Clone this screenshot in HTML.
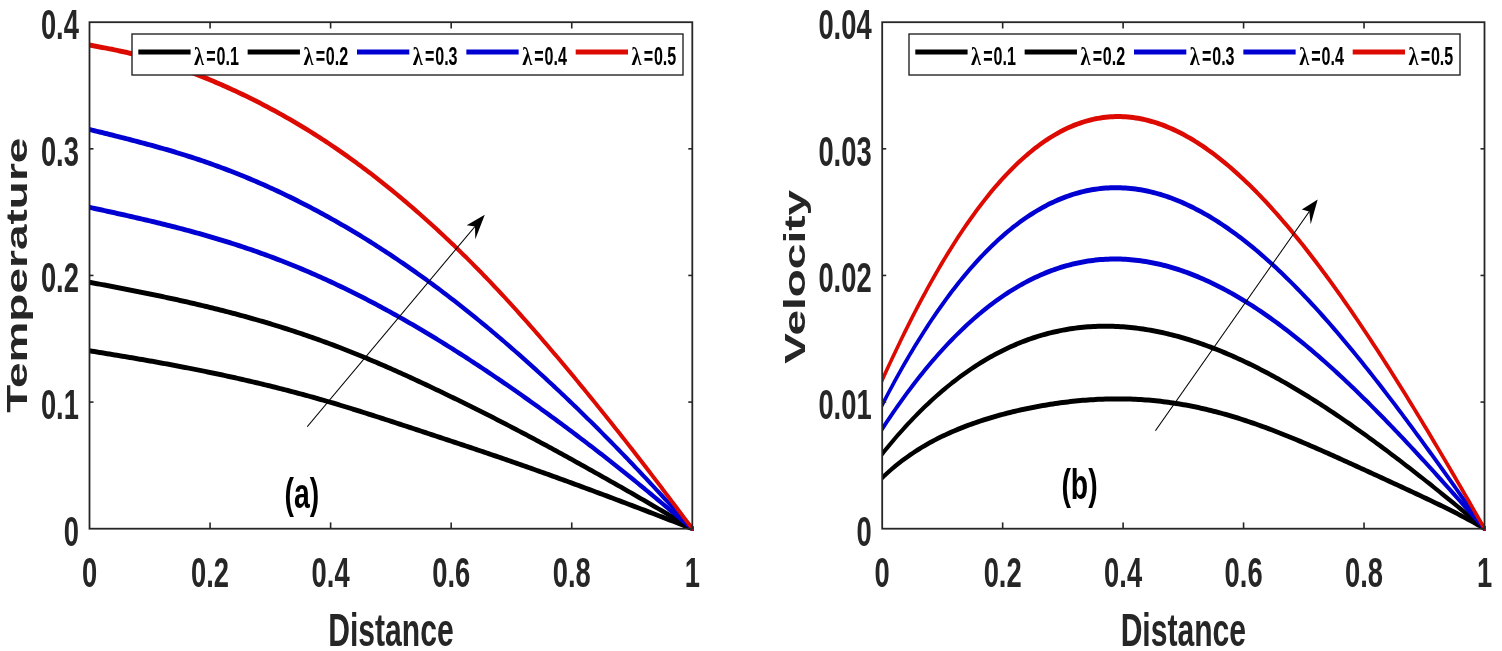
<!DOCTYPE html>
<html><head><meta charset="utf-8"><title>Temperature and Velocity profiles</title>
<style>html,body{margin:0;padding:0;background:#fff;}body{width:1502px;height:651px;overflow:hidden;}svg{display:block;}</style>
</head><body>
<svg width="1502" height="651" viewBox="0 0 1502 651">
<defs>
<clipPath id="clipL"><rect x="140.72" y="22.2" width="950.16" height="508.50"/></clipPath>
<clipPath id="clipR"><rect x="1387.11" y="22.2" width="949.37" height="508.50"/></clipPath>
</defs>
<g transform="scale(0.636,1)"><g clip-path="url(#clipL)">
<polyline points="112.29,347.80 140.72,350.76 144.67,351.18 148.62,351.59 152.57,352.00 156.52,352.41 160.47,352.83 164.42,353.24 168.37,353.65 172.32,354.07 176.27,354.48 180.21,354.90 184.16,355.32 188.11,355.74 192.06,356.16 196.01,356.58 199.96,357.00 203.91,357.43 207.86,357.85 211.81,358.28 215.76,358.71 219.71,359.15 223.66,359.58 227.60,360.02 231.55,360.46 235.50,360.90 239.45,361.35 243.40,361.80 247.35,362.25 251.30,362.70 255.25,363.16 259.20,363.62 263.15,364.08 267.10,364.54 271.05,365.01 274.99,365.48 278.94,365.96 282.89,366.43 286.84,366.91 290.79,367.40 294.74,367.89 298.69,368.38 302.64,368.87 306.59,369.37 310.54,369.87 314.49,370.37 318.44,370.88 322.38,371.39 326.33,371.91 330.28,372.43 334.23,372.95 338.18,373.48 342.13,374.01 346.08,374.54 350.03,375.08 353.98,375.62 357.93,376.17 361.88,376.72 365.83,377.27 369.77,377.83 373.72,378.39 377.67,378.96 381.62,379.53 385.57,380.11 389.52,380.68 393.47,381.27 397.42,381.85 401.37,382.44 405.32,383.04 409.27,383.64 413.22,384.24 417.16,384.85 421.11,385.47 425.06,386.08 429.01,386.71 432.96,387.33 436.91,387.96 440.86,388.60 444.81,389.24 448.76,389.88 452.71,390.53 456.66,391.19 460.61,391.85 464.55,392.51 468.50,393.18 472.45,393.85 476.40,394.53 480.35,395.22 484.30,395.91 488.25,396.60 492.20,397.30 496.15,398.00 500.10,398.71 504.05,399.43 508.00,400.15 511.94,400.87 515.89,401.60 519.84,402.34 523.79,403.08 527.74,403.83 531.69,404.58 535.64,405.34 539.59,406.10 543.54,406.86 547.49,407.63 551.44,408.41 555.39,409.18 559.33,409.97 563.28,410.75 567.23,411.54 571.18,412.33 575.13,413.13 579.08,413.93 583.03,414.73 586.98,415.53 590.93,416.34 594.88,417.15 598.83,417.96 602.78,418.77 606.72,419.59 610.67,420.40 614.62,421.22 618.57,422.04 622.52,422.86 626.47,423.68 630.42,424.51 634.37,425.33 638.32,426.15 642.27,426.98 646.22,427.81 650.17,428.63 654.11,429.46 658.06,430.29 662.01,431.12 665.96,431.95 669.91,432.78 673.86,433.61 677.81,434.44 681.76,435.27 685.71,436.10 689.66,436.93 693.61,437.77 697.56,438.60 701.50,439.43 705.45,440.26 709.40,441.10 713.35,441.93 717.30,442.77 721.25,443.60 725.20,444.44 729.15,445.28 733.10,446.12 737.05,446.96 741.00,447.80 744.94,448.64 748.89,449.48 752.84,450.33 756.79,451.18 760.74,452.03 764.69,452.88 768.64,453.73 772.59,454.59 776.54,455.44 780.49,456.30 784.44,457.16 788.39,458.03 792.33,458.89 796.28,459.76 800.23,460.63 804.18,461.50 808.13,462.37 812.08,463.24 816.03,464.12 819.98,465.00 823.93,465.88 827.88,466.77 831.83,467.65 835.78,468.54 839.72,469.43 843.67,470.32 847.62,471.21 851.57,472.11 855.52,473.01 859.47,473.91 863.42,474.81 867.37,475.72 871.32,476.62 875.27,477.53 879.22,478.44 883.17,479.35 887.11,480.27 891.06,481.19 895.01,482.10 898.96,483.03 902.91,483.95 906.86,484.87 910.81,485.80 914.76,486.72 918.71,487.65 922.66,488.58 926.61,489.51 930.56,490.44 934.50,491.37 938.45,492.31 942.40,493.24 946.35,494.18 950.30,495.12 954.25,496.05 958.20,496.99 962.15,497.93 966.10,498.87 970.05,499.82 974.00,500.76 977.95,501.71 981.89,502.66 985.84,503.60 989.79,504.56 993.74,505.51 997.69,506.46 1001.64,507.42 1005.59,508.37 1009.54,509.33 1013.49,510.29 1017.44,511.25 1021.39,512.22 1025.34,513.18 1029.28,514.14 1033.23,515.11 1037.18,516.08 1041.13,517.04 1045.08,518.01 1049.03,518.98 1052.98,519.95 1056.93,520.92 1060.88,521.89 1064.83,522.86 1068.78,523.83 1072.73,524.80 1076.67,525.77 1080.62,526.75 1084.57,527.72 1088.52,528.70 1116.96,535.77" fill="none" stroke="#000000" stroke-width="5.0" stroke-linejoin="round"/>
<polyline points="112.29,278.80 140.72,282.23 144.67,282.70 148.62,283.18 152.57,283.66 156.52,284.13 160.47,284.61 164.42,285.09 168.37,285.57 172.32,286.05 176.27,286.53 180.21,287.01 184.16,287.49 188.11,287.98 192.06,288.46 196.01,288.95 199.96,289.44 203.91,289.93 207.86,290.43 211.81,290.93 215.76,291.43 219.71,291.93 223.66,292.43 227.60,292.94 231.55,293.45 235.50,293.96 239.45,294.48 243.40,295.00 247.35,295.52 251.30,296.05 255.25,296.58 259.20,297.11 263.15,297.65 267.10,298.19 271.05,298.74 274.99,299.29 278.94,299.84 282.89,300.40 286.84,300.96 290.79,301.52 294.74,302.09 298.69,302.67 302.64,303.25 306.59,303.83 310.54,304.42 314.49,305.01 318.44,305.61 322.38,306.21 326.33,306.82 330.28,307.43 334.23,308.05 338.18,308.67 342.13,309.30 346.08,309.93 350.03,310.57 353.98,311.21 357.93,311.86 361.88,312.52 365.83,313.18 369.77,313.84 373.72,314.51 377.67,315.19 381.62,315.88 385.57,316.57 389.52,317.26 393.47,317.96 397.42,318.67 401.37,319.39 405.32,320.11 409.27,320.84 413.22,321.57 417.16,322.31 421.11,323.06 425.06,323.82 429.01,324.58 432.96,325.35 436.91,326.12 440.86,326.90 444.81,327.69 448.76,328.49 452.71,329.29 456.66,330.11 460.61,330.92 464.55,331.75 468.50,332.58 472.45,333.42 476.40,334.27 480.35,335.13 484.30,335.99 488.25,336.86 492.20,337.74 496.15,338.62 500.10,339.51 504.05,340.42 508.00,341.32 511.94,342.24 515.89,343.16 519.84,344.10 523.79,345.04 527.74,345.99 531.69,346.94 535.64,347.90 539.59,348.88 543.54,349.85 547.49,350.84 551.44,351.83 555.39,352.84 559.33,353.84 563.28,354.86 567.23,355.88 571.18,356.91 575.13,357.95 579.08,359.00 583.03,360.05 586.98,361.11 590.93,362.17 594.88,363.24 598.83,364.32 602.78,365.41 606.72,366.50 610.67,367.60 614.62,368.70 618.57,369.82 622.52,370.93 626.47,372.06 630.42,373.19 634.37,374.32 638.32,375.46 642.27,376.61 646.22,377.76 650.17,378.92 654.11,380.08 658.06,381.25 662.01,382.42 665.96,383.59 669.91,384.77 673.86,385.95 677.81,387.14 681.76,388.33 685.71,389.53 689.66,390.72 693.61,391.93 697.56,393.13 701.50,394.34 705.45,395.56 709.40,396.77 713.35,397.99 717.30,399.21 721.25,400.44 725.20,401.67 729.15,402.90 733.10,404.14 737.05,405.37 741.00,406.62 744.94,407.86 748.89,409.12 752.84,410.37 756.79,411.63 760.74,412.89 764.69,414.16 768.64,415.43 772.59,416.71 776.54,417.99 780.49,419.27 784.44,420.56 788.39,421.85 792.33,423.15 796.28,424.45 800.23,425.75 804.18,427.06 808.13,428.37 812.08,429.68 816.03,431.00 819.98,432.32 823.93,433.64 827.88,434.97 831.83,436.31 835.78,437.64 839.72,438.98 843.67,440.32 847.62,441.67 851.57,443.02 855.52,444.37 859.47,445.73 863.42,447.09 867.37,448.46 871.32,449.82 875.27,451.19 879.22,452.57 883.17,453.94 887.11,455.33 891.06,456.71 895.01,458.10 898.96,459.48 902.91,460.88 906.86,462.27 910.81,463.67 914.76,465.07 918.71,466.47 922.66,467.87 926.61,469.27 930.56,470.68 934.50,472.09 938.45,473.50 942.40,474.91 946.35,476.32 950.30,477.74 954.25,479.15 958.20,480.57 962.15,481.99 966.10,483.42 970.05,484.84 974.00,486.27 977.95,487.70 981.89,489.13 985.84,490.57 989.79,492.01 993.74,493.45 997.69,494.90 1001.64,496.35 1005.59,497.80 1009.54,499.25 1013.49,500.71 1017.44,502.17 1021.39,503.63 1025.34,505.09 1029.28,506.56 1033.23,508.02 1037.18,509.49 1041.13,510.96 1045.08,512.43 1049.03,513.91 1052.98,515.38 1056.93,516.86 1060.88,518.33 1064.83,519.81 1068.78,521.29 1072.73,522.77 1076.67,524.24 1080.62,525.72 1084.57,527.20 1088.52,528.70 1116.96,539.48" fill="none" stroke="#000000" stroke-width="5.0" stroke-linejoin="round"/>
<polyline points="112.29,203.40 140.72,207.34 144.67,207.89 148.62,208.43 152.57,208.98 156.52,209.53 160.47,210.08 164.42,210.63 168.37,211.18 172.32,211.73 176.27,212.29 180.21,212.84 184.16,213.40 188.11,213.96 192.06,214.52 196.01,215.08 199.96,215.65 203.91,216.22 207.86,216.79 211.81,217.36 215.76,217.94 219.71,218.52 223.66,219.10 227.60,219.69 231.55,220.28 235.50,220.88 239.45,221.48 243.40,222.08 247.35,222.69 251.30,223.31 255.25,223.92 259.20,224.55 263.15,225.17 267.10,225.81 271.05,226.44 274.99,227.09 278.94,227.73 282.89,228.39 286.84,229.05 290.79,229.71 294.74,230.38 298.69,231.06 302.64,231.74 306.59,232.43 310.54,233.13 314.49,233.83 318.44,234.54 322.38,235.26 326.33,235.98 330.28,236.71 334.23,237.45 338.18,238.19 342.13,238.95 346.08,239.71 350.03,240.47 353.98,241.25 357.93,242.03 361.88,242.82 365.83,243.62 369.77,244.42 373.72,245.24 377.67,246.06 381.62,246.89 385.57,247.73 389.52,248.58 393.47,249.43 397.42,250.30 401.37,251.17 405.32,252.05 409.27,252.95 413.22,253.85 417.16,254.76 421.11,255.68 425.06,256.60 429.01,257.54 432.96,258.49 436.91,259.45 440.86,260.41 444.81,261.39 448.76,262.37 452.71,263.37 456.66,264.37 460.61,265.39 464.55,266.41 468.50,267.44 472.45,268.49 476.40,269.54 480.35,270.60 484.30,271.67 488.25,272.75 492.20,273.84 496.15,274.94 500.10,276.05 504.05,277.17 508.00,278.30 511.94,279.44 515.89,280.59 519.84,281.75 523.79,282.92 527.74,284.10 531.69,285.29 535.64,286.49 539.59,287.70 543.54,288.91 547.49,290.14 551.44,291.38 555.39,292.62 559.33,293.88 563.28,295.14 567.23,296.41 571.18,297.70 575.13,298.99 579.08,300.29 583.03,301.60 586.98,302.92 590.93,304.24 594.88,305.58 598.83,306.92 602.78,308.28 606.72,309.64 610.67,311.01 614.62,312.39 618.57,313.78 622.52,315.18 626.47,316.58 630.42,318.00 634.37,319.42 638.32,320.85 642.27,322.29 646.22,323.74 650.17,325.19 654.11,326.66 658.06,328.13 662.01,329.61 665.96,331.10 669.91,332.60 673.86,334.11 677.81,335.63 681.76,337.15 685.71,338.68 689.66,340.22 693.61,341.77 697.56,343.33 701.50,344.89 705.45,346.46 709.40,348.04 713.35,349.63 717.30,351.22 721.25,352.82 725.20,354.43 729.15,356.05 733.10,357.67 737.05,359.30 741.00,360.94 744.94,362.59 748.89,364.24 752.84,365.90 756.79,367.56 760.74,369.24 764.69,370.91 768.64,372.60 772.59,374.29 776.54,375.99 780.49,377.70 784.44,379.41 788.39,381.12 792.33,382.85 796.28,384.58 800.23,386.31 804.18,388.05 808.13,389.80 812.08,391.55 816.03,393.31 819.98,395.08 823.93,396.85 827.88,398.62 831.83,400.40 835.78,402.19 839.72,403.99 843.67,405.79 847.62,407.59 851.57,409.40 855.52,411.22 859.47,413.04 863.42,414.87 867.37,416.70 871.32,418.55 875.27,420.39 879.22,422.24 883.17,424.10 887.11,425.97 891.06,427.84 895.01,429.71 898.96,431.59 902.91,433.48 906.86,435.37 910.81,437.26 914.76,439.17 918.71,441.08 922.66,442.99 926.61,444.91 930.56,446.84 934.50,448.77 938.45,450.70 942.40,452.65 946.35,454.60 950.30,456.55 954.25,458.52 958.20,460.49 962.15,462.46 966.10,464.45 970.05,466.44 974.00,468.43 977.95,470.44 981.89,472.45 985.84,474.47 989.79,476.50 993.74,478.53 997.69,480.57 1001.64,482.61 1005.59,484.67 1009.54,486.72 1013.49,488.79 1017.44,490.86 1021.39,492.93 1025.34,495.01 1029.28,497.09 1033.23,499.18 1037.18,501.27 1041.13,503.37 1045.08,505.46 1049.03,507.56 1052.98,509.67 1056.93,511.77 1060.88,513.88 1064.83,515.99 1068.78,518.10 1072.73,520.21 1076.67,522.32 1080.62,524.44 1084.57,526.55 1088.52,528.70 1116.96,544.18" fill="none" stroke="#0000d2" stroke-width="5.0" stroke-linejoin="round"/>
<polyline points="112.29,125.05 140.72,129.50 144.67,130.12 148.62,130.73 152.57,131.35 156.52,131.97 160.47,132.59 164.42,133.21 168.37,133.84 172.32,134.46 176.27,135.09 180.21,135.71 184.16,136.35 188.11,136.98 192.06,137.61 196.01,138.25 199.96,138.90 203.91,139.54 207.86,140.19 211.81,140.85 215.76,141.51 219.71,142.17 223.66,142.84 227.60,143.51 231.55,144.19 235.50,144.87 239.45,145.56 243.40,146.26 247.35,146.96 251.30,147.67 255.25,148.38 259.20,149.10 263.15,149.83 267.10,150.57 271.05,151.31 274.99,152.06 278.94,152.83 282.89,153.59 286.84,154.37 290.79,155.16 294.74,155.95 298.69,156.76 302.64,157.57 306.59,158.39 310.54,159.22 314.49,160.06 318.44,160.91 322.38,161.77 326.33,162.64 330.28,163.53 334.23,164.42 338.18,165.32 342.13,166.23 346.08,167.15 350.03,168.08 353.98,169.02 357.93,169.97 361.88,170.93 365.83,171.91 369.77,172.89 373.72,173.88 377.67,174.89 381.62,175.90 385.57,176.93 389.52,177.96 393.47,179.01 397.42,180.07 401.37,181.14 405.32,182.22 409.27,183.31 413.22,184.41 417.16,185.52 421.11,186.64 425.06,187.78 429.01,188.93 432.96,190.08 436.91,191.25 440.86,192.43 444.81,193.62 448.76,194.83 452.71,196.04 456.66,197.26 460.61,198.50 464.55,199.75 468.50,201.00 472.45,202.27 476.40,203.55 480.35,204.84 484.30,206.14 488.25,207.45 492.20,208.78 496.15,210.11 500.10,211.45 504.05,212.81 508.00,214.17 511.94,215.55 515.89,216.94 519.84,218.34 523.79,219.74 527.74,221.16 531.69,222.59 535.64,224.03 539.59,225.49 543.54,226.95 547.49,228.42 551.44,229.91 555.39,231.40 559.33,232.91 563.28,234.42 567.23,235.95 571.18,237.49 575.13,239.04 579.08,240.60 583.03,242.18 586.98,243.76 590.93,245.35 594.88,246.96 598.83,248.58 602.78,250.20 606.72,251.84 610.67,253.50 614.62,255.16 618.57,256.83 622.52,258.52 626.47,260.21 630.42,261.92 634.37,263.64 638.32,265.37 642.27,267.11 646.22,268.86 650.17,270.62 654.11,272.40 658.06,274.18 662.01,275.98 665.96,277.79 669.91,279.60 673.86,281.43 677.81,283.27 681.76,285.12 685.71,286.99 689.66,288.86 693.61,290.75 697.56,292.64 701.50,294.55 705.45,296.47 709.40,298.40 713.35,300.34 717.30,302.29 721.25,304.25 725.20,306.23 729.15,308.21 733.10,310.21 737.05,312.21 741.00,314.23 744.94,316.26 748.89,318.30 752.84,320.35 756.79,322.41 760.74,324.48 764.69,326.57 768.64,328.66 772.59,330.76 776.54,332.87 780.49,335.00 784.44,337.13 788.39,339.27 792.33,341.42 796.28,343.59 800.23,345.76 804.18,347.94 808.13,350.13 812.08,352.34 816.03,354.55 819.98,356.77 823.93,359.00 827.88,361.24 831.83,363.49 835.78,365.75 839.72,368.02 843.67,370.29 847.62,372.58 851.57,374.88 855.52,377.18 859.47,379.50 863.42,381.82 867.37,384.16 871.32,386.50 875.27,388.85 879.22,391.21 883.17,393.58 887.11,395.96 891.06,398.35 895.01,400.74 898.96,403.15 902.91,405.56 906.86,407.99 910.81,410.42 914.76,412.86 918.71,415.32 922.66,417.78 926.61,420.25 930.56,422.73 934.50,425.22 938.45,427.72 942.40,430.23 946.35,432.75 950.30,435.28 954.25,437.81 958.20,440.36 962.15,442.92 966.10,445.48 970.05,448.06 974.00,450.64 977.95,453.23 981.89,455.84 985.84,458.45 989.79,461.07 993.74,463.70 997.69,466.34 1001.64,468.99 1005.59,471.64 1009.54,474.31 1013.49,476.98 1017.44,479.66 1021.39,482.35 1025.34,485.04 1029.28,487.74 1033.23,490.44 1037.18,493.15 1041.13,495.86 1045.08,498.58 1049.03,501.30 1052.98,504.03 1056.93,506.76 1060.88,509.49 1064.83,512.22 1068.78,514.96 1072.73,517.69 1076.67,520.43 1080.62,523.17 1084.57,525.91 1088.52,528.70 1116.96,548.77" fill="none" stroke="#0000d2" stroke-width="5.0" stroke-linejoin="round"/>
<polyline points="112.29,41.77 140.72,45.08 144.67,45.55 148.62,46.01 152.57,46.47 156.52,46.94 160.47,47.41 164.42,47.89 168.37,48.37 172.32,48.86 176.27,49.35 180.21,49.86 184.16,50.38 188.11,50.91 192.06,51.45 196.01,52.00 199.96,52.57 203.91,53.16 207.86,53.76 211.81,54.38 215.76,55.01 219.71,55.66 223.66,56.32 227.60,57.00 231.55,57.70 235.50,58.41 239.45,59.14 243.40,59.88 247.35,60.64 251.30,61.41 255.25,62.19 259.20,63.00 263.15,63.81 267.10,64.64 271.05,65.49 274.99,66.35 278.94,67.23 282.89,68.11 286.84,69.02 290.79,69.93 294.74,70.86 298.69,71.81 302.64,72.77 306.59,73.74 310.54,74.72 314.49,75.72 318.44,76.73 322.38,77.76 326.33,78.79 330.28,79.84 334.23,80.90 338.18,81.97 342.13,83.05 346.08,84.15 350.03,85.25 353.98,86.37 357.93,87.49 361.88,88.63 365.83,89.78 369.77,90.95 373.72,92.12 377.67,93.31 381.62,94.51 385.57,95.72 389.52,96.94 393.47,98.18 397.42,99.42 401.37,100.68 405.32,101.96 409.27,103.24 413.22,104.54 417.16,105.85 421.11,107.18 425.06,108.51 429.01,109.86 432.96,111.23 436.91,112.60 440.86,113.99 444.81,115.40 448.76,116.81 452.71,118.24 456.66,119.69 460.61,121.15 464.55,122.62 468.50,124.10 472.45,125.60 476.40,127.12 480.35,128.65 484.30,130.19 488.25,131.75 492.20,133.32 496.15,134.90 500.10,136.51 504.05,138.12 508.00,139.75 511.94,141.40 515.89,143.06 519.84,144.74 523.79,146.43 527.74,148.14 531.69,149.86 535.64,151.60 539.59,153.35 543.54,155.12 547.49,156.90 551.44,158.70 555.39,160.51 559.33,162.34 563.28,164.18 567.23,166.04 571.18,167.91 575.13,169.80 579.08,171.71 583.03,173.62 586.98,175.56 590.93,177.51 594.88,179.47 598.83,181.45 602.78,183.44 606.72,185.45 610.67,187.47 614.62,189.51 618.57,191.56 622.52,193.63 626.47,195.71 630.42,197.81 634.37,199.92 638.32,202.05 642.27,204.19 646.22,206.34 650.17,208.51 654.11,210.70 658.06,212.90 662.01,215.11 665.96,217.34 669.91,219.58 673.86,221.84 677.81,224.11 681.76,226.40 685.71,228.70 689.66,231.02 693.61,233.35 697.56,235.70 701.50,238.06 705.45,240.44 709.40,242.83 713.35,245.24 717.30,247.66 721.25,250.09 725.20,252.55 729.15,255.01 733.10,257.49 737.05,259.99 741.00,262.50 744.94,265.03 748.89,267.57 752.84,270.13 756.79,272.70 760.74,275.29 764.69,277.90 768.64,280.51 772.59,283.15 776.54,285.80 780.49,288.46 784.44,291.14 788.39,293.83 792.33,296.54 796.28,299.26 800.23,302.00 804.18,304.75 808.13,307.52 812.08,310.30 816.03,313.09 819.98,315.89 823.93,318.71 827.88,321.54 831.83,324.38 835.78,327.23 839.72,330.09 843.67,332.97 847.62,335.85 851.57,338.75 855.52,341.65 859.47,344.57 863.42,347.50 867.37,350.44 871.32,353.39 875.27,356.35 879.22,359.32 883.17,362.30 887.11,365.29 891.06,368.29 895.01,371.30 898.96,374.31 902.91,377.34 906.86,380.38 910.81,383.42 914.76,386.48 918.71,389.54 922.66,392.61 926.61,395.70 930.56,398.78 934.50,401.88 938.45,404.99 942.40,408.10 946.35,411.23 950.30,414.36 954.25,417.49 958.20,420.64 962.15,423.80 966.10,426.96 970.05,430.12 974.00,433.30 977.95,436.48 981.89,439.67 985.84,442.87 989.79,446.08 993.74,449.29 997.69,452.52 1001.64,455.75 1005.59,458.99 1009.54,462.24 1013.49,465.49 1017.44,468.76 1021.39,472.03 1025.34,475.31 1029.28,478.60 1033.23,481.90 1037.18,485.20 1041.13,488.52 1045.08,491.83 1049.03,495.16 1052.98,498.49 1056.93,501.82 1060.88,505.16 1064.83,508.50 1068.78,511.85 1072.73,515.20 1076.67,518.55 1080.62,521.91 1084.57,525.26 1088.52,528.70 1116.96,553.47" fill="none" stroke="#dc0a00" stroke-width="5.0" stroke-linejoin="round"/>
</g></g>
<rect x="89.50" y="22.2" width="602.80" height="506.50" fill="none" stroke="#262626" stroke-width="1.8"/>
<line x1="210.06" y1="528.70" x2="210.06" y2="522.40" stroke="#262626" stroke-width="1.6"/>
<line x1="210.06" y1="22.20" x2="210.06" y2="28.50" stroke="#262626" stroke-width="1.6"/>
<line x1="330.62" y1="528.70" x2="330.62" y2="522.40" stroke="#262626" stroke-width="1.6"/>
<line x1="330.62" y1="22.20" x2="330.62" y2="28.50" stroke="#262626" stroke-width="1.6"/>
<line x1="451.18" y1="528.70" x2="451.18" y2="522.40" stroke="#262626" stroke-width="1.6"/>
<line x1="451.18" y1="22.20" x2="451.18" y2="28.50" stroke="#262626" stroke-width="1.6"/>
<line x1="571.74" y1="528.70" x2="571.74" y2="522.40" stroke="#262626" stroke-width="1.6"/>
<line x1="571.74" y1="22.20" x2="571.74" y2="28.50" stroke="#262626" stroke-width="1.6"/>
<line x1="89.50" y1="402.08" x2="93.50" y2="402.08" stroke="#262626" stroke-width="1.6"/>
<line x1="692.30" y1="402.08" x2="688.30" y2="402.08" stroke="#262626" stroke-width="1.6"/>
<line x1="89.50" y1="275.45" x2="93.50" y2="275.45" stroke="#262626" stroke-width="1.6"/>
<line x1="692.30" y1="275.45" x2="688.30" y2="275.45" stroke="#262626" stroke-width="1.6"/>
<line x1="89.50" y1="148.82" x2="93.50" y2="148.82" stroke="#262626" stroke-width="1.6"/>
<line x1="692.30" y1="148.82" x2="688.30" y2="148.82" stroke="#262626" stroke-width="1.6"/>
<g transform="scale(0.636,1)"><g clip-path="url(#clipR)">
<polyline points="1358.70,494.99 1387.11,477.80 1391.05,475.41 1395.00,473.10 1398.94,470.85 1402.89,468.68 1406.84,466.56 1410.78,464.51 1414.73,462.52 1418.67,460.59 1422.62,458.72 1426.57,456.90 1430.51,455.14 1434.46,453.42 1438.40,451.76 1442.35,450.14 1446.30,448.56 1450.24,447.04 1454.19,445.55 1458.13,444.10 1462.08,442.70 1466.02,441.33 1469.97,440.00 1473.92,438.71 1477.86,437.45 1481.81,436.22 1485.75,435.03 1489.70,433.86 1493.65,432.73 1497.59,431.62 1501.54,430.55 1505.48,429.50 1509.43,428.47 1513.38,427.48 1517.32,426.50 1521.27,425.55 1525.21,424.63 1529.16,423.72 1533.10,422.84 1537.05,421.98 1541.00,421.13 1544.94,420.31 1548.89,419.51 1552.83,418.73 1556.78,417.96 1560.73,417.22 1564.67,416.49 1568.62,415.77 1572.56,415.08 1576.51,414.40 1580.46,413.74 1584.40,413.09 1588.35,412.46 1592.29,411.84 1596.24,411.24 1600.18,410.65 1604.13,410.08 1608.08,409.53 1612.02,408.98 1615.97,408.45 1619.91,407.94 1623.86,407.44 1627.81,406.96 1631.75,406.48 1635.70,406.03 1639.64,405.58 1643.59,405.15 1647.54,404.73 1651.48,404.33 1655.43,403.94 1659.37,403.57 1663.32,403.21 1667.26,402.86 1671.21,402.53 1675.16,402.21 1679.10,401.90 1683.05,401.61 1686.99,401.34 1690.94,401.07 1694.89,400.83 1698.83,400.59 1702.78,400.37 1706.72,400.17 1710.67,399.98 1714.62,399.80 1718.56,399.64 1722.51,399.50 1726.45,399.37 1730.40,399.26 1734.34,399.16 1738.29,399.07 1742.24,399.01 1746.18,398.95 1750.13,398.92 1754.07,398.90 1758.02,398.89 1761.97,398.91 1765.91,398.93 1769.86,398.98 1773.80,399.04 1777.75,399.12 1781.70,399.21 1785.64,399.32 1789.59,399.45 1793.53,399.59 1797.48,399.75 1801.42,399.93 1805.37,400.12 1809.32,400.33 1813.26,400.56 1817.21,400.81 1821.15,401.07 1825.10,401.35 1829.05,401.65 1832.99,401.96 1836.94,402.29 1840.88,402.64 1844.83,403.01 1848.78,403.39 1852.72,403.79 1856.67,404.21 1860.61,404.64 1864.56,405.09 1868.50,405.56 1872.45,406.05 1876.40,406.55 1880.34,407.07 1884.29,407.60 1888.23,408.15 1892.18,408.72 1896.13,409.31 1900.07,409.91 1904.02,410.52 1907.96,411.16 1911.91,411.80 1915.86,412.47 1919.80,413.15 1923.75,413.84 1927.69,414.55 1931.64,415.28 1935.59,416.02 1939.53,416.77 1943.48,417.54 1947.42,418.32 1951.37,419.12 1955.31,419.93 1959.26,420.75 1963.21,421.59 1967.15,422.44 1971.10,423.30 1975.04,424.18 1978.99,425.07 1982.94,425.97 1986.88,426.88 1990.83,427.80 1994.77,428.74 1998.72,429.68 2002.67,430.64 2006.61,431.61 2010.56,432.58 2014.50,433.57 2018.45,434.57 2022.39,435.57 2026.34,436.59 2030.29,437.61 2034.23,438.64 2038.18,439.68 2042.12,440.72 2046.07,441.78 2050.02,442.84 2053.96,443.91 2057.91,444.98 2061.85,446.06 2065.80,447.15 2069.75,448.24 2073.69,449.34 2077.64,450.44 2081.58,451.55 2085.53,452.66 2089.47,453.77 2093.42,454.89 2097.37,456.02 2101.31,457.14 2105.26,458.27 2109.20,459.40 2113.15,460.54 2117.10,461.68 2121.04,462.82 2124.99,463.96 2128.93,465.10 2132.88,466.25 2136.83,467.39 2140.77,468.54 2144.72,469.69 2148.66,470.84 2152.61,471.99 2156.55,473.14 2160.50,474.30 2164.45,475.45 2168.39,476.60 2172.34,477.76 2176.28,478.91 2180.23,480.07 2184.18,481.23 2188.12,482.38 2192.07,483.54 2196.01,484.70 2199.96,485.86 2203.91,487.02 2207.85,488.18 2211.80,489.35 2215.74,490.51 2219.69,491.68 2223.63,492.85 2227.58,494.02 2231.53,495.19 2235.47,496.37 2239.42,497.55 2243.36,498.74 2247.31,499.93 2251.26,501.12 2255.20,502.32 2259.15,503.53 2263.09,504.74 2267.04,505.97 2270.99,507.19 2274.93,508.43 2278.88,509.68 2282.82,510.94 2286.77,512.21 2290.71,513.49 2294.66,514.78 2298.61,516.09 2302.55,517.42 2306.50,518.76 2310.44,520.12 2314.39,521.49 2318.34,522.89 2322.28,524.31 2326.23,525.75 2330.17,527.21 2334.12,528.70 2362.53,539.43" fill="none" stroke="#000000" stroke-width="5.0" stroke-linejoin="round"/>
<polyline points="1358.70,476.42 1387.11,453.92 1391.05,450.80 1395.00,447.72 1398.94,444.68 1402.89,441.69 1406.84,438.74 1410.78,435.84 1414.73,432.98 1418.67,430.16 1422.62,427.39 1426.57,424.66 1430.51,421.97 1434.46,419.33 1438.40,416.73 1442.35,414.16 1446.30,411.65 1450.24,409.17 1454.19,406.73 1458.13,404.34 1462.08,401.98 1466.02,399.67 1469.97,397.40 1473.92,395.17 1477.86,392.97 1481.81,390.82 1485.75,388.71 1489.70,386.63 1493.65,384.60 1497.59,382.60 1501.54,380.65 1505.48,378.73 1509.43,376.85 1513.38,375.01 1517.32,373.20 1521.27,371.44 1525.21,369.71 1529.16,368.01 1533.10,366.36 1537.05,364.74 1541.00,363.16 1544.94,361.62 1548.89,360.11 1552.83,358.63 1556.78,357.20 1560.73,355.79 1564.67,354.43 1568.62,353.10 1572.56,351.80 1576.51,350.54 1580.46,349.31 1584.40,348.12 1588.35,346.96 1592.29,345.84 1596.24,344.75 1600.18,343.69 1604.13,342.66 1608.08,341.67 1612.02,340.71 1615.97,339.79 1619.91,338.89 1623.86,338.03 1627.81,337.20 1631.75,336.41 1635.70,335.64 1639.64,334.91 1643.59,334.20 1647.54,333.53 1651.48,332.89 1655.43,332.28 1659.37,331.70 1663.32,331.15 1667.26,330.63 1671.21,330.14 1675.16,329.68 1679.10,329.25 1683.05,328.85 1686.99,328.48 1690.94,328.13 1694.89,327.82 1698.83,327.53 1702.78,327.27 1706.72,327.04 1710.67,326.84 1714.62,326.67 1718.56,326.52 1722.51,326.40 1726.45,326.31 1730.40,326.24 1734.34,326.21 1738.29,326.19 1742.24,326.21 1746.18,326.25 1750.13,326.32 1754.07,326.41 1758.02,326.53 1761.97,326.67 1765.91,326.84 1769.86,327.03 1773.80,327.25 1777.75,327.49 1781.70,327.76 1785.64,328.05 1789.59,328.37 1793.53,328.71 1797.48,329.08 1801.42,329.46 1805.37,329.87 1809.32,330.31 1813.26,330.77 1817.21,331.25 1821.15,331.75 1825.10,332.28 1829.05,332.82 1832.99,333.39 1836.94,333.99 1840.88,334.60 1844.83,335.24 1848.78,335.89 1852.72,336.57 1856.67,337.27 1860.61,337.99 1864.56,338.73 1868.50,339.49 1872.45,340.28 1876.40,341.08 1880.34,341.90 1884.29,342.74 1888.23,343.61 1892.18,344.49 1896.13,345.39 1900.07,346.31 1904.02,347.25 1907.96,348.21 1911.91,349.18 1915.86,350.18 1919.80,351.19 1923.75,352.22 1927.69,353.27 1931.64,354.34 1935.59,355.43 1939.53,356.53 1943.48,357.65 1947.42,358.79 1951.37,359.94 1955.31,361.11 1959.26,362.30 1963.21,363.50 1967.15,364.73 1971.10,365.96 1975.04,367.22 1978.99,368.48 1982.94,369.77 1986.88,371.07 1990.83,372.38 1994.77,373.72 1998.72,375.06 2002.67,376.42 2006.61,377.80 2010.56,379.19 2014.50,380.59 2018.45,382.01 2022.39,383.44 2026.34,384.89 2030.29,386.35 2034.23,387.83 2038.18,389.32 2042.12,390.82 2046.07,392.33 2050.02,393.86 2053.96,395.40 2057.91,396.95 2061.85,398.52 2065.80,400.10 2069.75,401.69 2073.69,403.29 2077.64,404.90 2081.58,406.53 2085.53,408.17 2089.47,409.82 2093.42,411.48 2097.37,413.15 2101.31,414.84 2105.26,416.53 2109.20,418.24 2113.15,419.95 2117.10,421.68 2121.04,423.41 2124.99,425.16 2128.93,426.92 2132.88,428.68 2136.83,430.46 2140.77,432.25 2144.72,434.04 2148.66,435.85 2152.61,437.66 2156.55,439.48 2160.50,441.32 2164.45,443.16 2168.39,445.01 2172.34,446.87 2176.28,448.73 2180.23,450.61 2184.18,452.49 2188.12,454.38 2192.07,456.28 2196.01,458.18 2199.96,460.10 2203.91,462.02 2207.85,463.95 2211.80,465.88 2215.74,467.83 2219.69,469.78 2223.63,471.73 2227.58,473.69 2231.53,475.66 2235.47,477.64 2239.42,479.62 2243.36,481.61 2247.31,483.60 2251.26,485.60 2255.20,487.61 2259.15,489.62 2263.09,491.63 2267.04,493.65 2270.99,495.68 2274.93,497.71 2278.88,499.75 2282.82,501.79 2286.77,503.83 2290.71,505.89 2294.66,507.94 2298.61,510.00 2302.55,512.06 2306.50,514.13 2310.44,516.20 2314.39,518.27 2318.34,520.35 2322.28,522.43 2326.23,524.52 2330.17,526.61 2334.12,528.70 2362.53,543.76" fill="none" stroke="#000000" stroke-width="5.0" stroke-linejoin="round"/>
<polyline points="1358.70,456.59 1387.11,428.95 1391.05,425.11 1395.00,421.32 1398.94,417.58 1402.89,413.88 1406.84,410.24 1410.78,406.63 1414.73,403.08 1418.67,399.57 1422.62,396.11 1426.57,392.69 1430.51,389.33 1434.46,386.00 1438.40,382.73 1442.35,379.50 1446.30,376.32 1450.24,373.18 1454.19,370.09 1458.13,367.04 1462.08,364.04 1466.02,361.08 1469.97,358.17 1473.92,355.31 1477.86,352.49 1481.81,349.71 1485.75,346.98 1489.70,344.30 1493.65,341.66 1497.59,339.06 1501.54,336.51 1505.48,334.00 1509.43,331.54 1513.38,329.12 1517.32,326.74 1521.27,324.41 1525.21,322.12 1529.16,319.87 1533.10,317.67 1537.05,315.51 1541.00,313.39 1544.94,311.32 1548.89,309.29 1552.83,307.30 1556.78,305.36 1560.73,303.45 1564.67,301.59 1568.62,299.77 1572.56,298.00 1576.51,296.26 1580.46,294.57 1584.40,292.92 1588.35,291.30 1592.29,289.74 1596.24,288.21 1600.18,286.72 1604.13,285.27 1608.08,283.87 1612.02,282.50 1615.97,281.18 1619.91,279.89 1623.86,278.65 1627.81,277.44 1631.75,276.28 1635.70,275.15 1639.64,274.06 1643.59,273.02 1647.54,272.01 1651.48,271.04 1655.43,270.11 1659.37,269.22 1663.32,268.37 1667.26,267.55 1671.21,266.78 1675.16,266.04 1679.10,265.34 1683.05,264.67 1686.99,264.05 1690.94,263.46 1694.89,262.91 1698.83,262.40 1702.78,261.92 1706.72,261.48 1710.67,261.08 1714.62,260.72 1718.56,260.39 1722.51,260.09 1726.45,259.83 1730.40,259.61 1734.34,259.43 1738.29,259.27 1742.24,259.16 1746.18,259.08 1750.13,259.03 1754.07,259.02 1758.02,259.05 1761.97,259.10 1765.91,259.20 1769.86,259.32 1773.80,259.48 1777.75,259.68 1781.70,259.91 1785.64,260.17 1789.59,260.46 1793.53,260.79 1797.48,261.15 1801.42,261.54 1805.37,261.97 1809.32,262.43 1813.26,262.91 1817.21,263.44 1821.15,263.99 1825.10,264.58 1829.05,265.19 1832.99,265.84 1836.94,266.52 1840.88,267.23 1844.83,267.97 1848.78,268.74 1852.72,269.54 1856.67,270.37 1860.61,271.23 1864.56,272.12 1868.50,273.04 1872.45,273.99 1876.40,274.97 1880.34,275.98 1884.29,277.01 1888.23,278.08 1892.18,279.17 1896.13,280.29 1900.07,281.44 1904.02,282.62 1907.96,283.82 1911.91,285.05 1915.86,286.31 1919.80,287.60 1923.75,288.91 1927.69,290.25 1931.64,291.61 1935.59,293.00 1939.53,294.42 1943.48,295.87 1947.42,297.33 1951.37,298.83 1955.31,300.35 1959.26,301.89 1963.21,303.46 1967.15,305.05 1971.10,306.67 1975.04,308.31 1978.99,309.97 1982.94,311.66 1986.88,313.38 1990.83,315.11 1994.77,316.87 1998.72,318.65 2002.67,320.45 2006.61,322.28 2010.56,324.13 2014.50,326.00 2018.45,327.89 2022.39,329.80 2026.34,331.74 2030.29,333.69 2034.23,335.67 2038.18,337.66 2042.12,339.68 2046.07,341.72 2050.02,343.77 2053.96,345.85 2057.91,347.95 2061.85,350.06 2065.80,352.20 2069.75,354.35 2073.69,356.52 2077.64,358.71 2081.58,360.92 2085.53,363.14 2089.47,365.39 2093.42,367.65 2097.37,369.93 2101.31,372.22 2105.26,374.53 2109.20,376.86 2113.15,379.20 2117.10,381.56 2121.04,383.94 2124.99,386.33 2128.93,388.74 2132.88,391.16 2136.83,393.59 2140.77,396.04 2144.72,398.51 2148.66,400.99 2152.61,403.48 2156.55,405.99 2160.50,408.51 2164.45,411.04 2168.39,413.59 2172.34,416.14 2176.28,418.71 2180.23,421.30 2184.18,423.89 2188.12,426.50 2192.07,429.11 2196.01,431.74 2199.96,434.38 2203.91,437.03 2207.85,439.69 2211.80,442.36 2215.74,445.04 2219.69,447.73 2223.63,450.43 2227.58,453.14 2231.53,455.85 2235.47,458.58 2239.42,461.31 2243.36,464.05 2247.31,466.80 2251.26,469.56 2255.20,472.32 2259.15,475.09 2263.09,477.87 2267.04,480.65 2270.99,483.44 2274.93,486.24 2278.88,489.04 2282.82,491.85 2286.77,494.66 2290.71,497.48 2294.66,500.30 2298.61,503.12 2302.55,505.95 2306.50,508.79 2310.44,511.62 2314.39,514.46 2318.34,517.30 2322.28,520.15 2326.23,523.00 2330.17,525.85 2334.12,528.70 2362.53,549.23" fill="none" stroke="#0000d2" stroke-width="5.0" stroke-linejoin="round"/>
<polyline points="1358.70,439.91 1387.11,404.92 1391.05,400.06 1395.00,395.26 1398.94,390.52 1402.89,385.84 1406.84,381.21 1410.78,376.65 1414.73,372.14 1418.67,367.69 1422.62,363.29 1426.57,358.96 1430.51,354.68 1434.46,350.46 1438.40,346.30 1442.35,342.20 1446.30,338.15 1450.24,334.16 1454.19,330.23 1458.13,326.35 1462.08,322.53 1466.02,318.77 1469.97,315.07 1473.92,311.42 1477.86,307.83 1481.81,304.29 1485.75,300.81 1489.70,297.39 1493.65,294.02 1497.59,290.71 1501.54,287.45 1505.48,284.25 1509.43,281.10 1513.38,278.01 1517.32,274.98 1521.27,272.00 1525.21,269.07 1529.16,266.20 1533.10,263.39 1537.05,260.62 1541.00,257.92 1544.94,255.26 1548.89,252.66 1552.83,250.12 1556.78,247.62 1560.73,245.18 1564.67,242.80 1568.62,240.47 1572.56,238.19 1576.51,235.96 1580.46,233.79 1584.40,231.67 1588.35,229.60 1592.29,227.58 1596.24,225.62 1600.18,223.70 1604.13,221.84 1608.08,220.03 1612.02,218.28 1615.97,216.57 1619.91,214.91 1623.86,213.31 1627.81,211.75 1631.75,210.25 1635.70,208.80 1639.64,207.40 1643.59,206.04 1647.54,204.74 1651.48,203.49 1655.43,202.28 1659.37,201.13 1663.32,200.02 1667.26,198.97 1671.21,197.96 1675.16,197.00 1679.10,196.09 1683.05,195.23 1686.99,194.41 1690.94,193.65 1694.89,192.93 1698.83,192.26 1702.78,191.63 1706.72,191.05 1710.67,190.52 1714.62,190.04 1718.56,189.60 1722.51,189.21 1726.45,188.87 1730.40,188.57 1734.34,188.31 1738.29,188.11 1742.24,187.94 1746.18,187.82 1750.13,187.75 1754.07,187.72 1758.02,187.74 1761.97,187.80 1765.91,187.90 1769.86,188.05 1773.80,188.24 1777.75,188.48 1781.70,188.75 1785.64,189.07 1789.59,189.44 1793.53,189.84 1797.48,190.29 1801.42,190.78 1805.37,191.31 1809.32,191.88 1813.26,192.49 1817.21,193.15 1821.15,193.84 1825.10,194.58 1829.05,195.36 1832.99,196.17 1836.94,197.03 1840.88,197.92 1844.83,198.86 1848.78,199.83 1852.72,200.85 1856.67,201.90 1860.61,202.99 1864.56,204.12 1868.50,205.28 1872.45,206.49 1876.40,207.73 1880.34,209.01 1884.29,210.32 1888.23,211.67 1892.18,213.06 1896.13,214.49 1900.07,215.95 1904.02,217.44 1907.96,218.97 1911.91,220.54 1915.86,222.14 1919.80,223.78 1923.75,225.45 1927.69,227.15 1931.64,228.89 1935.59,230.66 1939.53,232.47 1943.48,234.30 1947.42,236.17 1951.37,238.07 1955.31,240.01 1959.26,241.98 1963.21,243.97 1967.15,246.00 1971.10,248.06 1975.04,250.15 1978.99,252.28 1982.94,254.43 1986.88,256.61 1990.83,258.82 1994.77,261.06 1998.72,263.33 2002.67,265.63 2006.61,267.95 2010.56,270.31 2014.50,272.69 2018.45,275.10 2022.39,277.54 2026.34,280.00 2030.29,282.49 2034.23,285.01 2038.18,287.55 2042.12,290.12 2046.07,292.72 2050.02,295.34 2053.96,297.98 2057.91,300.65 2061.85,303.34 2065.80,306.06 2069.75,308.80 2073.69,311.56 2077.64,314.35 2081.58,317.16 2085.53,319.99 2089.47,322.85 2093.42,325.72 2097.37,328.62 2101.31,331.54 2105.26,334.47 2109.20,337.43 2113.15,340.41 2117.10,343.41 2121.04,346.43 2124.99,349.47 2128.93,352.52 2132.88,355.60 2136.83,358.69 2140.77,361.80 2144.72,364.93 2148.66,368.08 2152.61,371.24 2156.55,374.42 2160.50,377.61 2164.45,380.82 2168.39,384.05 2172.34,387.29 2176.28,390.54 2180.23,393.81 2184.18,397.09 2188.12,400.39 2192.07,403.70 2196.01,407.03 2199.96,410.36 2203.91,413.71 2207.85,417.07 2211.80,420.44 2215.74,423.83 2219.69,427.22 2223.63,430.62 2227.58,434.04 2231.53,437.46 2235.47,440.90 2239.42,444.34 2243.36,447.79 2247.31,451.25 2251.26,454.72 2255.20,458.19 2259.15,461.68 2263.09,465.17 2267.04,468.66 2270.99,472.16 2274.93,475.67 2278.88,479.18 2282.82,482.70 2286.77,486.22 2290.71,489.75 2294.66,493.28 2298.61,496.81 2302.55,500.35 2306.50,503.89 2310.44,507.43 2314.39,510.97 2318.34,514.52 2322.28,518.06 2326.23,521.61 2330.17,525.15 2334.12,528.70 2362.53,554.23" fill="none" stroke="#0000d2" stroke-width="5.0" stroke-linejoin="round"/>
<polyline points="1358.70,420.00 1387.11,380.10 1391.05,374.56 1395.00,369.07 1398.94,363.63 1402.89,358.25 1406.84,352.92 1410.78,347.64 1414.73,342.42 1418.67,337.25 1422.62,332.14 1426.57,327.09 1430.51,322.08 1434.46,317.14 1438.40,312.25 1442.35,307.42 1446.30,302.65 1450.24,297.93 1454.19,293.27 1458.13,288.67 1462.08,284.13 1466.02,279.64 1469.97,275.22 1473.92,270.85 1477.86,266.54 1481.81,262.29 1485.75,258.10 1489.70,253.98 1493.65,249.91 1497.59,245.90 1501.54,241.95 1505.48,238.06 1509.43,234.24 1513.38,230.47 1517.32,226.77 1521.27,223.12 1525.21,219.54 1529.16,216.02 1533.10,212.56 1537.05,209.16 1541.00,205.82 1544.94,202.55 1548.89,199.34 1552.83,196.18 1556.78,193.09 1560.73,190.07 1564.67,187.10 1568.62,184.20 1572.56,181.36 1576.51,178.58 1580.46,175.86 1584.40,173.21 1588.35,170.61 1592.29,168.08 1596.24,165.61 1600.18,163.20 1604.13,160.86 1608.08,158.58 1612.02,156.36 1615.97,154.20 1619.91,152.10 1623.86,150.06 1627.81,148.09 1631.75,146.17 1635.70,144.32 1639.64,142.53 1643.59,140.80 1647.54,139.13 1651.48,137.53 1655.43,135.98 1659.37,134.50 1663.32,133.07 1667.26,131.71 1671.21,130.40 1675.16,129.16 1679.10,127.97 1683.05,126.85 1686.99,125.78 1690.94,124.78 1694.89,123.83 1698.83,122.95 1702.78,122.12 1706.72,121.35 1710.67,120.64 1714.62,119.98 1718.56,119.39 1722.51,118.85 1726.45,118.37 1730.40,117.95 1734.34,117.59 1738.29,117.28 1742.24,117.03 1746.18,116.83 1750.13,116.70 1754.07,116.61 1758.02,116.59 1761.97,116.62 1765.91,116.70 1769.86,116.84 1773.80,117.03 1777.75,117.28 1781.70,117.58 1785.64,117.93 1789.59,118.34 1793.53,118.81 1797.48,119.32 1801.42,119.89 1805.37,120.51 1809.32,121.18 1813.26,121.90 1817.21,122.67 1821.15,123.50 1825.10,124.37 1829.05,125.30 1832.99,126.28 1836.94,127.30 1840.88,128.38 1844.83,129.50 1848.78,130.67 1852.72,131.89 1856.67,133.16 1860.61,134.48 1864.56,135.84 1868.50,137.25 1872.45,138.71 1876.40,140.21 1880.34,141.76 1884.29,143.35 1888.23,144.99 1892.18,146.67 1896.13,148.40 1900.07,150.17 1904.02,151.99 1907.96,153.85 1911.91,155.75 1915.86,157.70 1919.80,159.68 1923.75,161.71 1927.69,163.78 1931.64,165.89 1935.59,168.04 1939.53,170.23 1943.48,172.46 1947.42,174.73 1951.37,177.04 1955.31,179.39 1959.26,181.77 1963.21,184.20 1967.15,186.66 1971.10,189.16 1975.04,191.69 1978.99,194.27 1982.94,196.87 1986.88,199.52 1990.83,202.19 1994.77,204.91 1998.72,207.65 2002.67,210.44 2006.61,213.25 2010.56,216.10 2014.50,218.98 2018.45,221.89 2022.39,224.84 2026.34,227.82 2030.29,230.82 2034.23,233.86 2038.18,236.93 2042.12,240.03 2046.07,243.16 2050.02,246.32 2053.96,249.51 2057.91,252.72 2061.85,255.97 2065.80,259.24 2069.75,262.54 2073.69,265.87 2077.64,269.22 2081.58,272.60 2085.53,276.01 2089.47,279.44 2093.42,282.90 2097.37,286.38 2101.31,289.88 2105.26,293.41 2109.20,296.97 2113.15,300.55 2117.10,304.15 2121.04,307.77 2124.99,311.41 2128.93,315.08 2132.88,318.77 2136.83,322.48 2140.77,326.21 2144.72,329.97 2148.66,333.74 2152.61,337.53 2156.55,341.34 2160.50,345.18 2164.45,349.03 2168.39,352.90 2172.34,356.78 2176.28,360.69 2180.23,364.61 2184.18,368.56 2188.12,372.51 2192.07,376.49 2196.01,380.48 2199.96,384.49 2203.91,388.51 2207.85,392.55 2211.80,396.61 2215.74,400.68 2219.69,404.77 2223.63,408.87 2227.58,412.98 2231.53,417.11 2235.47,421.25 2239.42,425.41 2243.36,429.58 2247.31,433.76 2251.26,437.96 2255.20,442.17 2259.15,446.39 2263.09,450.62 2267.04,454.87 2270.99,459.12 2274.93,463.39 2278.88,467.67 2282.82,471.96 2286.77,476.27 2290.71,480.58 2294.66,484.90 2298.61,489.24 2302.55,493.58 2306.50,497.94 2310.44,502.30 2314.39,506.68 2318.34,511.06 2322.28,515.46 2326.23,519.86 2330.17,524.28 2334.12,528.70 2362.53,560.54" fill="none" stroke="#dc0a00" stroke-width="5.0" stroke-linejoin="round"/>
</g></g>
<rect x="882.20" y="22.2" width="602.30" height="506.50" fill="none" stroke="#262626" stroke-width="1.8"/>
<line x1="1002.66" y1="528.70" x2="1002.66" y2="522.40" stroke="#262626" stroke-width="1.6"/>
<line x1="1002.66" y1="22.20" x2="1002.66" y2="28.50" stroke="#262626" stroke-width="1.6"/>
<line x1="1123.12" y1="528.70" x2="1123.12" y2="522.40" stroke="#262626" stroke-width="1.6"/>
<line x1="1123.12" y1="22.20" x2="1123.12" y2="28.50" stroke="#262626" stroke-width="1.6"/>
<line x1="1243.58" y1="528.70" x2="1243.58" y2="522.40" stroke="#262626" stroke-width="1.6"/>
<line x1="1243.58" y1="22.20" x2="1243.58" y2="28.50" stroke="#262626" stroke-width="1.6"/>
<line x1="1364.04" y1="528.70" x2="1364.04" y2="522.40" stroke="#262626" stroke-width="1.6"/>
<line x1="1364.04" y1="22.20" x2="1364.04" y2="28.50" stroke="#262626" stroke-width="1.6"/>
<line x1="882.20" y1="402.08" x2="886.20" y2="402.08" stroke="#262626" stroke-width="1.6"/>
<line x1="1484.50" y1="402.08" x2="1480.50" y2="402.08" stroke="#262626" stroke-width="1.6"/>
<line x1="882.20" y1="275.45" x2="886.20" y2="275.45" stroke="#262626" stroke-width="1.6"/>
<line x1="1484.50" y1="275.45" x2="1480.50" y2="275.45" stroke="#262626" stroke-width="1.6"/>
<line x1="882.20" y1="148.83" x2="886.20" y2="148.83" stroke="#262626" stroke-width="1.6"/>
<line x1="1484.50" y1="148.83" x2="1480.50" y2="148.83" stroke="#262626" stroke-width="1.6"/>
<rect x="132.00" y="34.0" width="551.00" height="41.0" fill="#fff" stroke="#262626" stroke-width="1.4"/>
<line transform="scale(0.636,1)" x1="217.45" y1="51.90" x2="299.69" y2="51.90" stroke="#000000" stroke-width="5.0"/>
<line transform="scale(0.636,1)" x1="389.39" y1="51.90" x2="471.62" y2="51.90" stroke="#000000" stroke-width="5.0"/>
<line transform="scale(0.636,1)" x1="561.32" y1="51.90" x2="643.55" y2="51.90" stroke="#0000d2" stroke-width="5.0"/>
<line transform="scale(0.636,1)" x1="733.25" y1="51.90" x2="815.49" y2="51.90" stroke="#0000d2" stroke-width="5.0"/>
<line transform="scale(0.636,1)" x1="905.19" y1="51.90" x2="987.42" y2="51.90" stroke="#dc0a00" stroke-width="5.0"/>
<rect x="909.00" y="34.0" width="551.00" height="41.0" fill="#fff" stroke="#262626" stroke-width="1.4"/>
<line transform="scale(0.636,1)" x1="1439.15" y1="51.90" x2="1521.38" y2="51.90" stroke="#000000" stroke-width="5.0"/>
<line transform="scale(0.636,1)" x1="1611.08" y1="51.90" x2="1693.32" y2="51.90" stroke="#000000" stroke-width="5.0"/>
<line transform="scale(0.636,1)" x1="1783.02" y1="51.90" x2="1865.25" y2="51.90" stroke="#0000d2" stroke-width="5.0"/>
<line transform="scale(0.636,1)" x1="1954.95" y1="51.90" x2="2037.19" y2="51.90" stroke="#0000d2" stroke-width="5.0"/>
<line transform="scale(0.636,1)" x1="2126.89" y1="51.90" x2="2209.12" y2="51.90" stroke="#dc0a00" stroke-width="5.0"/>
<line transform="scale(0.636,1)" x1="483.02" y1="426.70" x2="746.86" y2="226.40" stroke="#000" stroke-width="1.3"/>
<polygon points="484.8,214.7 466.7,225.2 475.0,226.4 475.3,239.3" fill="#000"/>
<line transform="scale(0.636,1)" x1="1816.67" y1="430.70" x2="2058.65" y2="211.50" stroke="#000" stroke-width="1.3"/>
<polygon points="1317.7,199.4 1301.8,209.6 1309.3,211.5 1310.7,224.3" fill="#000"/>
<g fill="#1a1a1a">
<text transform="translate(89.50,586.80) scale(0.636,1)" fill="#262626" font-size="43" font-weight="bold" text-anchor="middle" font-family='"Liberation Sans", Arial, sans-serif'>0</text>
<text transform="translate(210.06,586.80) scale(0.636,1)" fill="#262626" font-size="43" font-weight="bold" text-anchor="middle" font-family='"Liberation Sans", Arial, sans-serif'>0.2</text>
<text transform="translate(330.62,586.80) scale(0.636,1)" fill="#262626" font-size="43" font-weight="bold" text-anchor="middle" font-family='"Liberation Sans", Arial, sans-serif'>0.4</text>
<text transform="translate(451.18,586.80) scale(0.636,1)" fill="#262626" font-size="43" font-weight="bold" text-anchor="middle" font-family='"Liberation Sans", Arial, sans-serif'>0.6</text>
<text transform="translate(571.74,586.80) scale(0.636,1)" fill="#262626" font-size="43" font-weight="bold" text-anchor="middle" font-family='"Liberation Sans", Arial, sans-serif'>0.8</text>
<text transform="translate(692.30,586.80) scale(0.636,1)" fill="#262626" font-size="43" font-weight="bold" text-anchor="middle" font-family='"Liberation Sans", Arial, sans-serif'>1</text>
<text transform="translate(78.90,545.70) scale(0.636,1)" fill="#262626" font-size="43" font-weight="bold" text-anchor="end" font-family='"Liberation Sans", Arial, sans-serif'>0</text>
<text transform="translate(78.90,419.08) scale(0.636,1)" fill="#262626" font-size="43" font-weight="bold" text-anchor="end" font-family='"Liberation Sans", Arial, sans-serif'>0.1</text>
<text transform="translate(78.90,292.45) scale(0.636,1)" fill="#262626" font-size="43" font-weight="bold" text-anchor="end" font-family='"Liberation Sans", Arial, sans-serif'>0.2</text>
<text transform="translate(78.90,165.82) scale(0.636,1)" fill="#262626" font-size="43" font-weight="bold" text-anchor="end" font-family='"Liberation Sans", Arial, sans-serif'>0.3</text>
<text transform="translate(78.90,39.20) scale(0.636,1)" fill="#262626" font-size="43" font-weight="bold" text-anchor="end" font-family='"Liberation Sans", Arial, sans-serif'>0.4</text>
<text transform="translate(390.90,646.30) scale(0.66,1)" fill="#262626" font-size="45.6" font-weight="bold" text-anchor="middle" font-family='"Liberation Sans", Arial, sans-serif'>Distance</text>
<text transform="translate(882.20,586.80) scale(0.636,1)" fill="#262626" font-size="43" font-weight="bold" text-anchor="middle" font-family='"Liberation Sans", Arial, sans-serif'>0</text>
<text transform="translate(1002.66,586.80) scale(0.636,1)" fill="#262626" font-size="43" font-weight="bold" text-anchor="middle" font-family='"Liberation Sans", Arial, sans-serif'>0.2</text>
<text transform="translate(1123.12,586.80) scale(0.636,1)" fill="#262626" font-size="43" font-weight="bold" text-anchor="middle" font-family='"Liberation Sans", Arial, sans-serif'>0.4</text>
<text transform="translate(1243.58,586.80) scale(0.636,1)" fill="#262626" font-size="43" font-weight="bold" text-anchor="middle" font-family='"Liberation Sans", Arial, sans-serif'>0.6</text>
<text transform="translate(1364.04,586.80) scale(0.636,1)" fill="#262626" font-size="43" font-weight="bold" text-anchor="middle" font-family='"Liberation Sans", Arial, sans-serif'>0.8</text>
<text transform="translate(1484.50,586.80) scale(0.636,1)" fill="#262626" font-size="43" font-weight="bold" text-anchor="middle" font-family='"Liberation Sans", Arial, sans-serif'>1</text>
<text transform="translate(871.60,545.70) scale(0.636,1)" fill="#262626" font-size="43" font-weight="bold" text-anchor="end" font-family='"Liberation Sans", Arial, sans-serif'>0</text>
<text transform="translate(871.60,419.08) scale(0.636,1)" fill="#262626" font-size="43" font-weight="bold" text-anchor="end" font-family='"Liberation Sans", Arial, sans-serif'>0.01</text>
<text transform="translate(871.60,292.45) scale(0.636,1)" fill="#262626" font-size="43" font-weight="bold" text-anchor="end" font-family='"Liberation Sans", Arial, sans-serif'>0.02</text>
<text transform="translate(871.60,165.83) scale(0.636,1)" fill="#262626" font-size="43" font-weight="bold" text-anchor="end" font-family='"Liberation Sans", Arial, sans-serif'>0.03</text>
<text transform="translate(871.60,39.20) scale(0.636,1)" fill="#262626" font-size="43" font-weight="bold" text-anchor="end" font-family='"Liberation Sans", Arial, sans-serif'>0.04</text>
<text transform="translate(1183.35,646.30) scale(0.66,1)" fill="#262626" font-size="45.6" font-weight="bold" text-anchor="middle" font-family='"Liberation Sans", Arial, sans-serif'>Distance</text>
<text transform="translate(27.00,275.20) rotate(-90) scale(1,0.64)" fill="#262626" font-size="46" font-weight="bold" text-anchor="middle" font-family='"Liberation Sans", Arial, sans-serif'>Temperature</text>
<text transform="translate(804.50,276.80) rotate(-90) scale(1,0.64)" fill="#262626" font-size="46" font-weight="bold" text-anchor="middle" font-family='"Liberation Sans", Arial, sans-serif'>Velocity</text>
<text transform="translate(301.90,507.80) scale(0.668,1)" fill="#000" font-size="42.5" font-weight="bold" text-anchor="middle" font-family='"Liberation Sans", Arial, sans-serif'>(a)</text>
<text transform="translate(1079.50,498.80) scale(0.668,1)" fill="#000" font-size="42.5" font-weight="bold" text-anchor="middle" font-family='"Liberation Sans", Arial, sans-serif'>(b)</text>
<text transform="translate(194.10,64.8) scale(0.636,1)" fill="#000" font-size="25.3" font-weight="bold" font-family='"Liberation Sans", Arial, sans-serif'><tspan font-family='"Liberation Serif", serif' font-size="25.4" textLength="15.72" lengthAdjust="spacingAndGlyphs">λ</tspan><tspan x="19.18">=</tspan><tspan x="35.22">0.1</tspan></text>
<text transform="translate(303.45,64.8) scale(0.636,1)" fill="#000" font-size="25.3" font-weight="bold" font-family='"Liberation Sans", Arial, sans-serif'><tspan font-family='"Liberation Serif", serif' font-size="25.4" textLength="15.72" lengthAdjust="spacingAndGlyphs">λ</tspan><tspan x="19.18">=</tspan><tspan x="35.22">0.2</tspan></text>
<text transform="translate(412.80,64.8) scale(0.636,1)" fill="#000" font-size="25.3" font-weight="bold" font-family='"Liberation Sans", Arial, sans-serif'><tspan font-family='"Liberation Serif", serif' font-size="25.4" textLength="15.72" lengthAdjust="spacingAndGlyphs">λ</tspan><tspan x="19.18">=</tspan><tspan x="35.22">0.3</tspan></text>
<text transform="translate(522.15,64.8) scale(0.636,1)" fill="#000" font-size="25.3" font-weight="bold" font-family='"Liberation Sans", Arial, sans-serif'><tspan font-family='"Liberation Serif", serif' font-size="25.4" textLength="15.72" lengthAdjust="spacingAndGlyphs">λ</tspan><tspan x="19.18">=</tspan><tspan x="35.22">0.4</tspan></text>
<text transform="translate(631.50,64.8) scale(0.636,1)" fill="#000" font-size="25.3" font-weight="bold" font-family='"Liberation Sans", Arial, sans-serif'><tspan font-family='"Liberation Serif", serif' font-size="25.4" textLength="15.72" lengthAdjust="spacingAndGlyphs">λ</tspan><tspan x="19.18">=</tspan><tspan x="35.22">0.5</tspan></text>
<text transform="translate(971.10,64.8) scale(0.636,1)" fill="#000" font-size="25.3" font-weight="bold" font-family='"Liberation Sans", Arial, sans-serif'><tspan font-family='"Liberation Serif", serif' font-size="25.4" textLength="15.72" lengthAdjust="spacingAndGlyphs">λ</tspan><tspan x="19.18">=</tspan><tspan x="35.22">0.1</tspan></text>
<text transform="translate(1080.45,64.8) scale(0.636,1)" fill="#000" font-size="25.3" font-weight="bold" font-family='"Liberation Sans", Arial, sans-serif'><tspan font-family='"Liberation Serif", serif' font-size="25.4" textLength="15.72" lengthAdjust="spacingAndGlyphs">λ</tspan><tspan x="19.18">=</tspan><tspan x="35.22">0.2</tspan></text>
<text transform="translate(1189.80,64.8) scale(0.636,1)" fill="#000" font-size="25.3" font-weight="bold" font-family='"Liberation Sans", Arial, sans-serif'><tspan font-family='"Liberation Serif", serif' font-size="25.4" textLength="15.72" lengthAdjust="spacingAndGlyphs">λ</tspan><tspan x="19.18">=</tspan><tspan x="35.22">0.3</tspan></text>
<text transform="translate(1299.15,64.8) scale(0.636,1)" fill="#000" font-size="25.3" font-weight="bold" font-family='"Liberation Sans", Arial, sans-serif'><tspan font-family='"Liberation Serif", serif' font-size="25.4" textLength="15.72" lengthAdjust="spacingAndGlyphs">λ</tspan><tspan x="19.18">=</tspan><tspan x="35.22">0.4</tspan></text>
<text transform="translate(1408.50,64.8) scale(0.636,1)" fill="#000" font-size="25.3" font-weight="bold" font-family='"Liberation Sans", Arial, sans-serif'><tspan font-family='"Liberation Serif", serif' font-size="25.4" textLength="15.72" lengthAdjust="spacingAndGlyphs">λ</tspan><tspan x="19.18">=</tspan><tspan x="35.22">0.5</tspan></text>
</g>
</svg>
</body></html>
